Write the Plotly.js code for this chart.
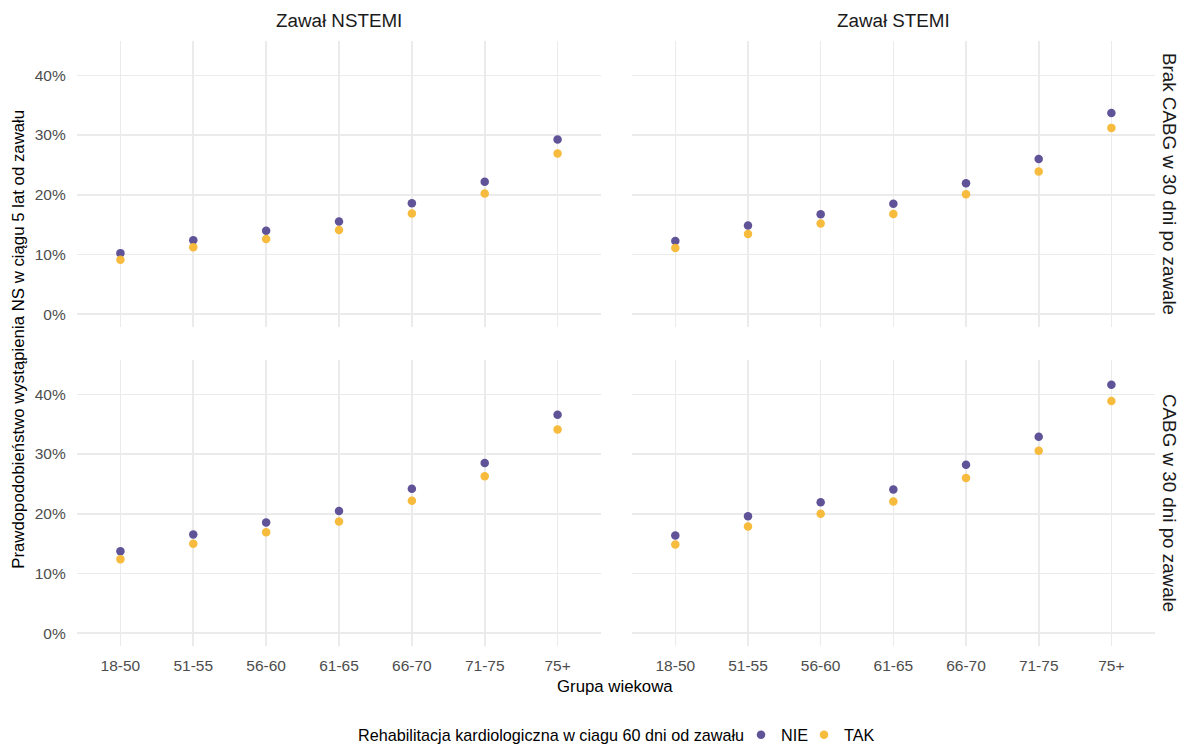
<!DOCTYPE html>
<html>
<head>
<meta charset="utf-8">
<script src="https://cdn.plot.ly/plotly-3.0.1.min.js"></script>
<style>
  html, body { margin: 0; padding: 0; background: #ffffff; }
  #chart { width: 1184px; height: 753px; }
</style>
</head>
<body>
<div id="chart"></div>
<script>
// Age groups on the x axis
const ageGroups = ["18-50", "51-55", "56-60", "61-65", "66-70", "71-75", "75+"];

// Probability of heart failure within 5 years, by infarction type and CABG status
// "NIE" = no cardiac rehabilitation, "TAK" = rehabilitation within 60 days
const nstemiNoCabgNIE = [0.1023, 0.1239, 0.1398, 0.1553, 0.1857, 0.2220, 0.2924];
const nstemiNoCabgTAK = [0.0912, 0.1123, 0.1260, 0.1410, 0.1686, 0.2020, 0.2690];
const stemiNoCabgNIE  = [0.1227, 0.1487, 0.1675, 0.1850, 0.2194, 0.2600, 0.3370];
const stemiNoCabgTAK  = [0.1110, 0.1343, 0.1520, 0.1680, 0.2007, 0.2390, 0.3120];
const nstemiCabgNIE   = [0.1371, 0.1653, 0.1852, 0.2045, 0.2420, 0.2850, 0.3660];
const nstemiCabgTAK   = [0.1238, 0.1498, 0.1692, 0.1869, 0.2217, 0.2630, 0.3410];
const stemiCabgNIE    = [0.1636, 0.1957, 0.2194, 0.2405, 0.2820, 0.3290, 0.4160];
const stemiCabgTAK    = [0.1487, 0.1786, 0.2000, 0.2206, 0.2598, 0.3056, 0.3890];

// Facet and legend labels
const colLabels = ["Zawał NSTEMI", "Zawał STEMI"];
const rowLabels = ["Brak CABG w 30 dni po zawale", "CABG w 30 dni po zawale"];
const groupLabels = ["NIE", "TAK"];
const legendTitle = "Rehabilitacja kardiologiczna w ciagu 60 dni od zawału";
const yTickVals = [0, 0.1, 0.2, 0.3, 0.4];

const colors = { NIE: "#574a91", TAK: "#f7b733" };
const legendIds = { NIE: "legend", TAK: "legend2" };
const W = 1184, H = 753;
const FONT = "Liberation Sans, Arial, sans-serif";

// facet grid: [xaxis suffix, yaxis suffix, NIE series, TAK series]
const facets = [
  ["", "", nstemiNoCabgNIE, nstemiNoCabgTAK],
  ["2", "2", stemiNoCabgNIE, stemiNoCabgTAK],
  ["3", "3", nstemiCabgNIE, nstemiCabgTAK],
  ["4", "4", stemiCabgNIE, stemiCabgTAK]
];

const traces = [];
facets.forEach((f, i) => {
  [[groupLabels[0], f[2]], [groupLabels[1], f[3]]].forEach(([name, vals]) => {
    traces.push({
      type: "scatter",
      mode: "markers",
      x: ageGroups,
      y: vals,
      name: name,
      legendgroup: name,
      legend: legendIds[name],
      showlegend: i === 0,
      xaxis: "x" + f[0],
      yaxis: "y" + f[1],
      marker: { color: colors[name], size: 8.5, opacity: 0.95 },
      hoverinfo: "x+y+name"
    });
  });
});

// panel pixel boxes converted to paper fractions
const px = v => v / W;
const py = v => 1 - v / H;
const xDomL = [px(76.7), px(601.3)];
const xDomR = [px(631.7), px(1155)];
const yDomT = [py(330.5), py(41)];
const yDomB = [py(652.5), py(363)];

const gridColor = "#ebebeb";
const tickFont = { family: FONT, size: 15.5, color: "#4d4d4d" };

function xAxis(domain, anchor, showLabels) {
  return {
    domain: domain, anchor: anchor, type: "category",
    range: [-0.6, 6.6], showgrid: true, gridcolor: gridColor, gridwidth: 1.6,
    zeroline: false, showline: false, ticks: "", showticklabels: showLabels,
    tickfont: tickFont, ticklabelstandoff: 8, fixedrange: true
  };
}
function yAxis(domain, anchor, showLabels) {
  return {
    domain: domain, anchor: anchor, range: [-0.0221, 0.4581],
    tickvals: yTickVals, tickformat: ".0%", showgrid: true, gridcolor: gridColor,
    gridwidth: 1.6, zeroline: false, showline: false, ticks: "",
    showticklabels: showLabels, tickfont: tickFont, ticklabelstandoff: 10, fixedrange: true
  };
}

const stripFont = { family: FONT, size: 18.8, color: "#1a1a1a" };
const titleFont = { family: FONT, size: 16.8, color: "#000000" };
const legendFont = { family: FONT, size: 16.2, color: "#000000" };

function legendAt(xPix) {
  return {
    orientation: "h", x: px(xPix), xanchor: "left", y: py(742), yanchor: "middle",
    font: legendFont, itemwidth: 30, bgcolor: "rgba(0,0,0,0)"
  };
}

const layout = {
  width: W, height: H,
  margin: { l: 0, r: 0, t: 0, b: 0 },
  paper_bgcolor: "#ffffff", plot_bgcolor: "#ffffff",
  font: { family: FONT },
  xaxis: xAxis(xDomL, "y", false),
  yaxis: yAxis(yDomT, "x", true),
  xaxis2: xAxis(xDomR, "y2", false),
  yaxis2: yAxis(yDomT, "x2", false),
  xaxis3: xAxis(xDomL, "y3", true),
  yaxis3: yAxis(yDomB, "x3", true),
  xaxis4: xAxis(xDomR, "y4", true),
  yaxis4: yAxis(yDomB, "x4", false),
  showlegend: true,
  legend: legendAt(741),
  legend2: legendAt(804),
  annotations: [
    { text: colLabels[0], x: (xDomL[0] + xDomL[1]) / 2, y: py(21), xref: "paper", yref: "paper",
      showarrow: false, font: stripFont, xanchor: "center", yanchor: "middle" },
    { text: colLabels[1], x: (xDomR[0] + xDomR[1]) / 2, y: py(21), xref: "paper", yref: "paper",
      showarrow: false, font: stripFont, xanchor: "center", yanchor: "middle" },
    { text: rowLabels[0], x: px(1170), y: (yDomT[0] + yDomT[1]) / 2, xref: "paper", yref: "paper",
      showarrow: false, font: stripFont, textangle: 90, xanchor: "center", yanchor: "middle" },
    { text: rowLabels[1], x: px(1170), y: (yDomB[0] + yDomB[1]) / 2, xref: "paper", yref: "paper",
      showarrow: false, font: stripFont, textangle: 90, xanchor: "center", yanchor: "middle" },
    { text: "Grupa wiekowa", x: px(615), y: py(693), xref: "paper", yref: "paper",
      showarrow: false, font: titleFont, xanchor: "center", yanchor: "middle" },
    { text: "Prawdopodobieństwo wystąpienia NS w ciągu 5 lat od zawału", x: px(19), y: py(343),
      xref: "paper", yref: "paper", showarrow: false, font: titleFont, textangle: -90,
      xanchor: "center", yanchor: "middle" },
    { text: legendTitle, x: px(746), y: py(742), xref: "paper", yref: "paper",
      showarrow: false, font: legendFont, xanchor: "right", yanchor: "middle" }
  ]
};

Plotly.newPlot("chart", traces, layout, { displayModeBar: false, staticPlot: true });
</script>
</body>
</html>
